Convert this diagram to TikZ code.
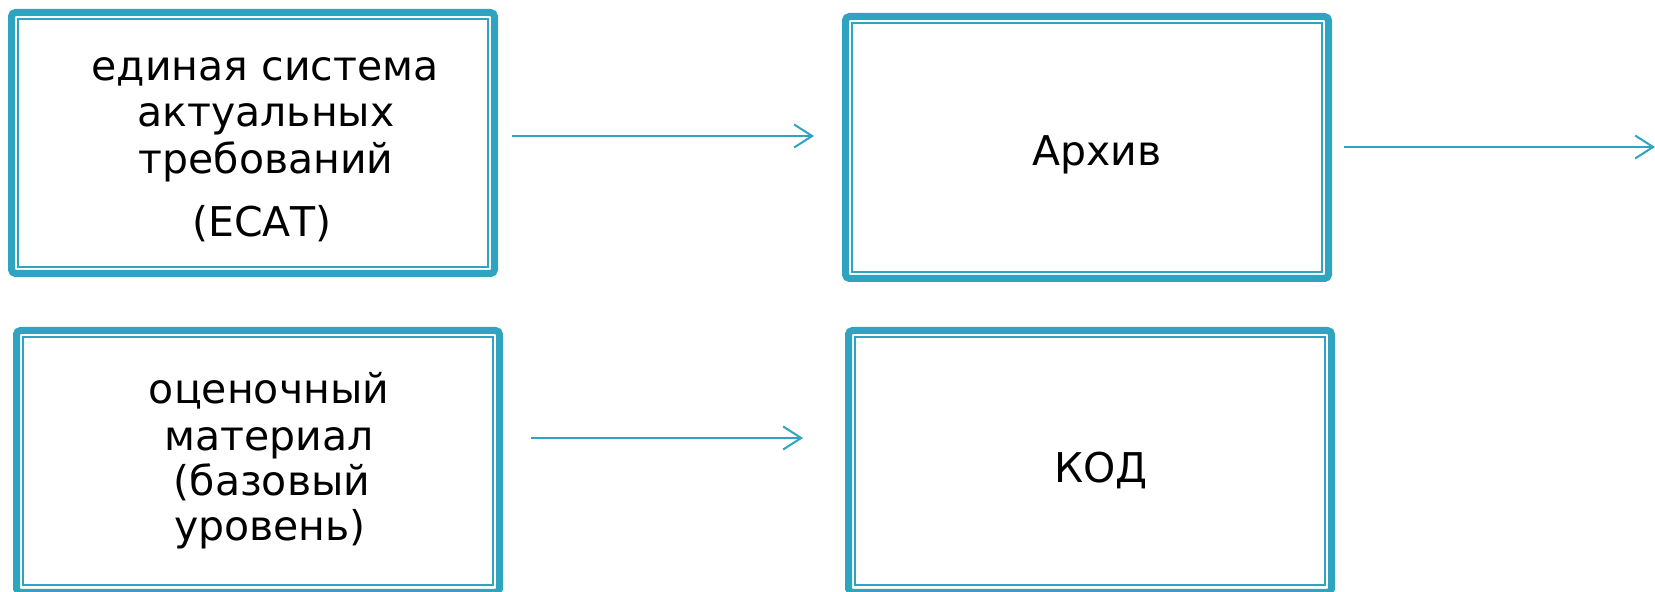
\documentclass[tikz,border=0pt]{standalone}
\usepackage{fontspec}
\setmainfont{DejaVu Sans}
\usetikzlibrary{arrows.meta}
\definecolor{teal1}{HTML}{2EA4C0}
\tikzset{
  outerbox/.style={draw=teal1, line width=3.5pt, rounded corners=2pt},
  innerbox/.style={draw=teal1, line width=1pt},
  lbl/.style={anchor=base, inner sep=0pt, font=\fontsize{20.5pt}{23pt}\selectfont},
  conn/.style={draw=teal1, line width=1pt, -{Straight Barb[length=9pt,width=11.5pt,line width=1pt]}}
}
\begin{document}
\begin{tikzpicture}[x=0.5pt,y=-0.5pt]
\useasboundingbox (0,0) rectangle (1655,592);
% boxes
\draw[outerbox] (11.5,12.5) rectangle (494.5,273.5);
\draw[innerbox] (18,19) rectangle (488,267);
\node[inner sep=0pt, minimum width=245pt, minimum height=134pt] (b1) at (253,143) {};

\draw[outerbox] (845.5,16.5) rectangle (1328.5,278.5);
\draw[innerbox] (852,23) rectangle (1322,272);
\node[inner sep=0pt, minimum width=245pt, minimum height=134pt] (b2) at (1087,147) {};

\draw[outerbox] (16.5,330.5) rectangle (499.5,592.5);
\draw[innerbox] (23,337) rectangle (493,585);
\node[inner sep=0pt, minimum width=245pt, minimum height=134pt] (b3) at (258,461) {};

\draw[outerbox] (848.5,330.5) rectangle (1331.5,592.5);
\draw[innerbox] (855,337) rectangle (1325,585);
\node[inner sep=0pt, minimum width=245pt, minimum height=134pt] (b4) at (1090,461) {};

% texts
\node[lbl] (t1a) at (265,81) {единая система};
\node[lbl] (t1b) at (266,127) {актуальных};
\node[lbl] (t1c) at (266,174) {требований};
\node[lbl] (t1d) at (262,237) {(ЕСАТ)};

\node[lbl] (t2) at (1097,166) {Архив};

\node[lbl] (t3a) at (269,404) {оценочный};
\node[lbl] (t3b) at (269,451) {материал};
\node[lbl] (t3c) at (272,496) {(базовый};
\node[lbl] (t3d) at (270,541) {уровень)};

\node[lbl] (t4) at (1101,483) {КОД};

% connector end points
\coordinate (a1s) at (512,136);
\coordinate (a1e) at (814,136);
\coordinate (a2s) at (1344,147);
\coordinate (a2e) at (1655,147);
\coordinate (a3s) at (531,438);
\coordinate (a3e) at (803,438);

\draw[conn] (a1s) -- (a1e);
\draw[conn] (a2s) -- (a2e);
\draw[conn] (a3s) -- (a3e);
\end{tikzpicture}
\end{document}
